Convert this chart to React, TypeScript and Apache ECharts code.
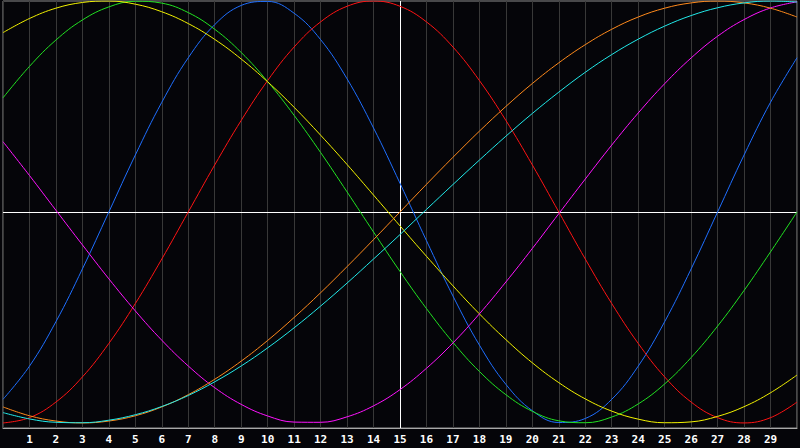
import React, { useEffect, useRef } from "react";
import * as echarts from "echarts";

// days 0..30, the chart spans exactly 30 days, labels only 1..29
const DAYS = Array.from({ length: 31 }, (_, i) => i);
const TODAY = 15;

// values (-1 .. 1)
const physical = [
    -0.888, -0.731, -0.52, -0.27, 0, 0.27, 0.52, 0.731, 0.888, 0.979, 0.998,
    0.942, 0.817, 0.631, 0.398, 0.136, -0.136, -0.398, -0.631, -0.817, -0.942,
    -0.998, -0.979, -0.888, -0.731, -0.52, -0.27, 0, 0.27, 0.52, 0.731,
];
const emotional = [
    -1.0, -0.975, -0.901, -0.782, -0.623, -0.434, -0.223, 0, 0.223, 0.434, 0.623,
    0.782, 0.901, 0.975, 1.0, 0.975, 0.901, 0.782, 0.623, 0.434, 0.223,
    0, -0.223, -0.434, -0.623, -0.782, -0.901, -0.975, -1.0, -0.975, -0.901,
];
const intellectual = [
    0.541, 0.69, 0.815, 0.91, 0.972, 0.999, 0.99, 0.945, 0.866, 0.756, 0.618,
    0.458, 0.282, 0.095, -0.095, -0.282, -0.458, -0.618, -0.756, -0.866, -0.945,
    -0.99, -0.999, -0.972, -0.91, -0.815, -0.69, -0.541, -0.372, -0.189, 0,
];
const aesthetic = [
    0.85, 0.917, 0.966, 0.993, 1.0, 0.985, 0.949, 0.893, 0.818, 0.725, 0.617,
    0.496, 0.364, 0.225, 0.08, -0.066, -0.21, -0.35, -0.483, -0.605, -0.715,
    -0.809, -0.886, -0.944, -0.982, -0.999, -0.995, -0.969, -0.923, -0.857, -0.773,
];
const intuitive = [
    0.333, 0.173, 0.008, -0.156, -0.317, -0.469, -0.608, -0.73, -0.833, -0.912, -0.967,
    -0.996, -0.997, -0.971, -0.919, -0.842, -0.741, -0.621, -0.483, -0.332, -0.173,
    -0.008, 0.156, 0.317, 0.469, 0.608, 0.73, 0.833, 0.912, 0.967, 0.996,
];
const passion = [
    -0.924, -0.966, -0.991, -1.0, -0.991, -0.966, -0.924, -0.866, -0.793, -0.707, -0.609,
    -0.5, -0.383, -0.259, -0.131, 0, 0.131, 0.259, 0.383, 0.5, 0.609,
    0.707, 0.793, 0.866, 0.924, 0.966, 0.991, 1.0, 0.991, 0.966, 0.924,
];
const spiritual = [
    -0.951, -0.981, -0.997, -0.999, -0.987, -0.961, -0.922, -0.87, -0.805, -0.73, -0.644,
    -0.549, -0.446, -0.337, -0.223, -0.107, 0.012, 0.13, 0.246, 0.359, 0.467,
    0.568, 0.662, 0.746, 0.819, 0.881, 0.931, 0.968, 0.991, 1.0, 0.995,
];

const CURVES: { name: string; values: number[]; color: string }[] = [
    { name: "physical", values: physical, color: "#1f6fff" },
    { name: "emotional", values: emotional, color: "#ff1414" },
    { name: "intellectual", values: intellectual, color: "#22e222" },
    { name: "aesthetic", values: aesthetic, color: "#f2f200" },
    { name: "intuitive", values: intuitive, color: "#ff14ff" },
    { name: "passion", values: passion, color: "#ff8a1c" },
    { name: "spiritual", values: spiritual, color: "#22eaea" },
];

const App: React.FC = () => {
    const ref = useRef<HTMLDivElement | null>(null);

    useEffect(() => {
        if (!ref.current) return;
        const inst = echarts.init(ref.current, undefined, { renderer: "svg" });

        const series: any[] = CURVES.map((c, i) => ({
            name: c.name,
            type: "line",
            data: DAYS.map((d) => [d, c.values[d]]),
            smooth: 0.4,
            showSymbol: false,
            symbol: "none",
            silent: true,
            lineStyle: { color: c.color, width: 1 },
            z: 3,
            ...(i === 0
                ? {
                      markLine: {
                          silent: true,
                          symbol: "none",
                          label: { show: false },
                          lineStyle: { color: "#ffffff", width: 1, type: "solid" },
                          data: [{ yAxis: 0 }, { xAxis: TODAY }],
                          z: 2,
                      },
                  }
                : {}),
        }));

        inst.setOption({
            animation: false,
            backgroundColor: "#050509",
            grid: {
                left: 1,
                right: 1,
                top: 1,
                bottom: 20,
                show: true,
                borderColor: "#8c8c8c",
                borderWidth: 1,
            },
            xAxis: {
                type: "value",
                min: 0,
                max: 30,
                interval: 1,
                axisLine: { show: true, onZero: false, lineStyle: { color: "#a8a8a8", width: 1 } },
                axisTick: { show: false },
                axisLabel: {
                    color: "#ffffff",
                    fontWeight: "bold",
                    fontSize: 11,
                    fontFamily: "DejaVu Sans Mono",
                    margin: 6,
                    formatter: (v: number) => (v <= 0 || v >= 30 ? "" : String(v)),
                },
                splitLine: { show: true, lineStyle: { color: "#383838", width: 1 } },
            },
            yAxis: {
                type: "value",
                min: -1.024,
                max: 1,
                show: false,
                splitLine: { show: false },
            },
            series,
        });

        return () => inst.dispose();
    }, []);

    return (
        <div
            ref={ref}
            style={{ position: "fixed", left: 0, top: 0, width: 800, height: 448, background: "#050509" }}
        />
    );
};

export default App;
